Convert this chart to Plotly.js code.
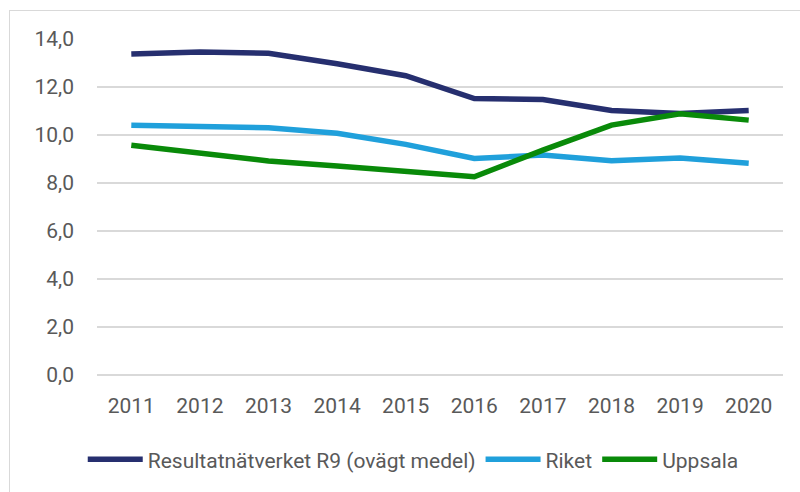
<!DOCTYPE html>
<html>
<head>
<meta charset="utf-8">
<script src="https://cdn.plot.ly/plotly-3.0.1.min.js"></script>
<style>
  html, body { margin: 0; padding: 0; width: 800px; height: 492px; overflow: hidden; background: #fff; }
  #frame { position: absolute; left: 9px; top: 10px; width: 820px; height: 520px; border: 1px solid #d9d9d9; box-sizing: border-box; pointer-events: none; }
  #chart { position: absolute; left: 0; top: 0; width: 800px; height: 492px; }
</style>
</head>
<body>
<div id="chart"></div>
<div id="frame"></div>
<script>
const years = ['2011','2012','2013','2014','2015','2016','2017','2018','2019','2020'];
const r9Values = [13.38, 13.46, 13.41, 12.97, 12.47, 11.52, 11.48, 11.02, 10.90, 11.02];
const riketValues = [10.41, 10.33, 10.30, 10.07, 9.61, 9.02, 9.17, 8.93, 9.04, 8.82];
const uppsalaValues = [9.57, 9.24, 8.92, 8.71, 8.48, 8.26, 9.37, 10.41, 10.88, 10.62];
const seriesNames = ['Resultatnätverket R9 (ovägt medel)', 'Riket', 'Uppsala'];
const yTicks = [0, 2, 4, 6, 8, 10, 12, 14];

const FONT = 'Roboto, "Open Sans", sans-serif';
const TXT = '#595959';

const mk = (name, y, color) => ({
  type: 'scatter', mode: 'lines', name: name, x: years, y: y,
  line: { color: color, width: 5.5 },
  hoverinfo: 'skip'
});

const data = [
  mk(seriesNames[0], r9Values, '#262F6F'),
  mk(seriesNames[1], riketValues, '#20A0DB'),
  mk(seriesNames[2], uppsalaValues, '#098A09')
];

const layout = {
  width: 800, height: 492,
  margin: { l: 97, r: 17, t: 39, b: 115 },
  paper_bgcolor: '#ffffff', plot_bgcolor: '#ffffff',
  separators: ', ',
  font: { family: FONT, size: 21, color: TXT },
  showlegend: true,
  legend: {
    orientation: 'h', x: 0.461, xanchor: 'center', y: -0.252, yanchor: 'middle',
    font: { family: FONT, size: 21, color: TXT },
    itemwidth: 55, traceorder: 'normal', bgcolor: 'rgba(0,0,0,0)'
  },
  xaxis: {
    type: 'category', range: [-0.5, 9.5], showgrid: false, zeroline: false,
    showline: false, ticks: '', ticklabelstandoff: 16,
    tickfont: { family: FONT, size: 21, color: TXT }, fixedrange: true
  },
  yaxis: {
    range: [0, 14], tickvals: yTicks, tickformat: '.1f',
    showgrid: true, gridcolor: '#d9d9d9', gridwidth: 1.3,
    zeroline: true, zerolinecolor: '#d9d9d9', zerolinewidth: 1.3,
    showline: false, ticks: '', ticklabelstandoff: 22,
    tickfont: { family: FONT, size: 21, color: TXT }, fixedrange: true
  }
};

Plotly.newPlot('chart', data, layout, { displayModeBar: false, staticPlot: true });
</script>
</body>
</html>
